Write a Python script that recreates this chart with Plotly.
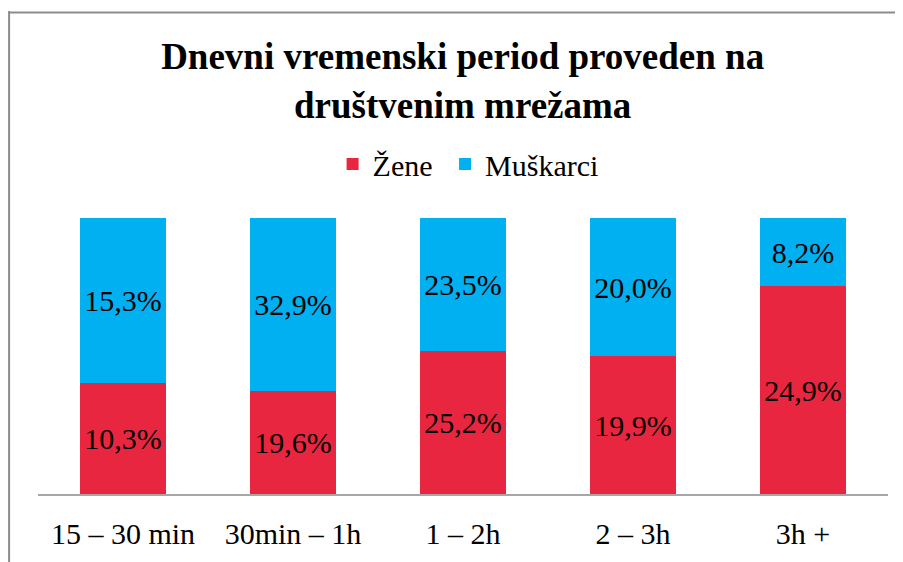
import plotly.graph_objects as go

# Data
categories = ["15 – 30 min", "30min – 1h", "1 – 2h", "2 – 3h", "3h +"]
zene = [10.3, 19.6, 25.2, 19.9, 24.9]
muskarci = [15.3, 32.9, 23.5, 20.0, 8.2]

RED = "#E8263F"
BLUE = "#00B0F0"
FONT = "Liberation Serif"
BORDER = "#8c8c8c"


def lbl(vals):
    return [f"{v:.1f}".replace(".", ",") + "%" for v in vals]


fig = go.Figure()
series = [("Žene\u00a0", zene, RED), ("Muškarci", muskarci, BLUE)]
for name, vals, color in series:
    fig.add_trace(go.Bar(
        x=categories, y=vals, name=name, marker_color=color,
        marker_line_width=0,
        text=lbl(vals), textposition="inside", insidetextanchor="middle",
        textangle=0, textfont=dict(size=30, color="black", family=FONT),
    ))

# page has an 8px body margin, so the figure is a bit smaller than the window
fig.update_layout(
    width=895, height=554,
    barmode="stack", barnorm="percent", bargap=0.494,
    paper_bgcolor="white", plot_bgcolor="white",
    font=dict(family=FONT, color="black"),
    margin=dict(l=30, r=15, t=210, b=68, autoexpand=False),
    title=dict(text="<b>Dnevni vremenski period proveden na<br>društvenim mrežama</b>",
               x=0.508, xanchor="center", y=0.889, yanchor="middle",
               font=dict(size=37, family=FONT, color="black")),
    legend=dict(orientation="h", x=0.506, xanchor="center", y=1.196, yanchor="middle",
                font=dict(size=30, family=FONT), itemwidth=30,
                traceorder="normal", bgcolor="rgba(0,0,0,0)"),
    uniformtext=dict(minsize=30, mode="show"),
    showlegend=True,
    shapes=[dict(type="line", xref="paper", yref="paper",
                 x0=-0.034, x1=-0.034, y0=-0.3, y1=1.75,
                 line=dict(color=BORDER, width=2)),
            dict(type="line", xref="paper", yref="paper",
                 x0=-0.035, x1=1.1, y0=1.745, y1=1.745,
                 line=dict(color=BORDER, width=2))],
)
fig.update_xaxes(range=[-0.5, 4.5], showline=True, linecolor="#A6A6A6", linewidth=2,
                 ticks="", ticklabelstandoff=12, automargin=False,
                 tickfont=dict(size=30, family=FONT, color="black"))
fig.update_yaxes(range=[0, 100], visible=False, showgrid=False, automargin=False)

fig.write_html("out.html")
